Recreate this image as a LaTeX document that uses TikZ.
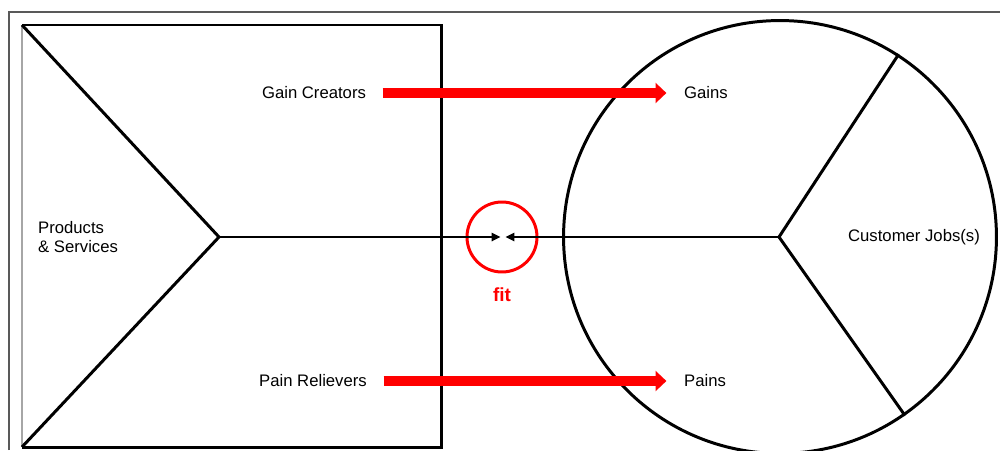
\documentclass[tikz,border=0pt]{standalone}
\usepackage{fontspec}
\setmainfont{Liberation Sans}
\usetikzlibrary{arrows.meta}
\begin{document}
\begin{tikzpicture}[x=0.02cm,y=-0.02cm,
  lbl/.style={font=\fontsize{9.5}{10.8}\selectfont},
  edge/.style={line width=1.7pt},
  fitarrow/.style={red,line width=5.6pt,-{Triangle[length=6.2pt,width=11.3pt]},
    shorten <=6pt,shorten >=6.6pt}]
  \useasboundingbox (0,0) rectangle (1000,450);
  % outer frame
  \draw[black!65,line width=0.8pt] (9,450)--(9,12)--(1000,12);
  % value map
  \coordinate (tl) at (22,25);
  \coordinate (tr) at (441,25);
  \coordinate (br) at (441,447);
  \coordinate (bl) at (22,447);
  \coordinate (vtip) at (219,237);
  \draw[black!35,line width=0.6pt] (tl)--(bl);
  \draw[edge] (tl)--(tr)--(br)--(bl);
  \draw[edge] (tl)--(vtip)--(bl);
  \node[lbl,anchor=west,align=left] (prod) at (32,237) {Products\\\& Services};
  \node[lbl] (creators) at (314,93) {Gain Creators};
  \node[lbl] (relievers) at (313,381) {Pain Relievers};
  % customer profile
  \node[circle,draw,edge,minimum size=8.66cm,inner sep=0pt] (cust) at (780,237) {};
  \coordinate (hub) at (779,237);
  \draw[edge] (cust.57)--(hub)--(cust.-55);
  \node[lbl,anchor=west] (gains) at (678,93) {Gains};
  \node[lbl,anchor=west] (pains) at (678,381) {Pains};
  \node[lbl] (jobs) at (914,237) {Customer Jobs(s)};
  % fit
  \node[circle,draw=red,line width=1.7pt,minimum size=1.4cm,inner sep=0pt] (fit) at (502,237) {};
  \coordinate (fitl) at (500.5,237);
  \coordinate (fitr) at (505.5,237);
  \draw[edge,-{Triangle[length=5pt,width=4.6pt]}] (vtip)--(fitl);
  \draw[edge,-{Triangle[length=5pt,width=4.6pt]}] (hub)--(fitr);
  \node[red,font=\fontsize{10.8}{12}\selectfont\bfseries] (fitlbl) at (502,295) {fit};
  \draw[fitarrow] (creators)--(gains);
  \draw[fitarrow] (relievers)--(pains);
\end{tikzpicture}
\end{document}
